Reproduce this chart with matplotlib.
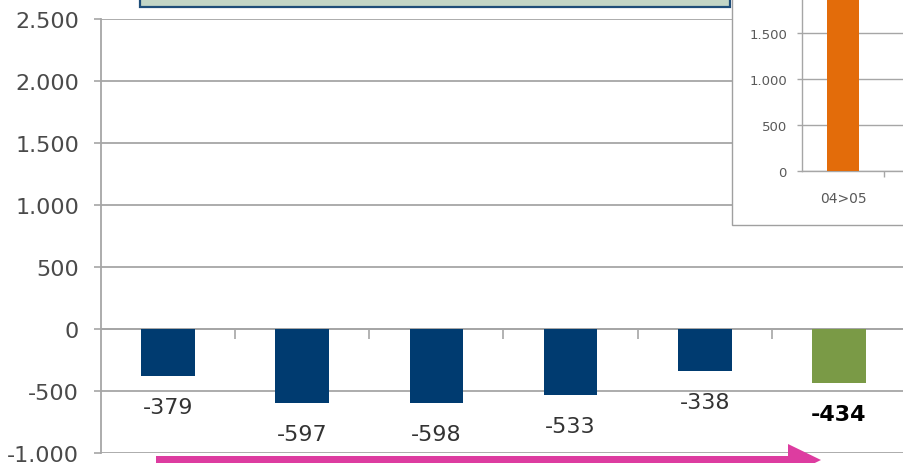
"""Year-over-year change bars with an inset chart and highlight arrow."""

import matplotlib

matplotlib.use("Agg")
import matplotlib.pyplot as plt
from matplotlib.patches import FancyArrow, Rectangle
from matplotlib.ticker import FixedLocator, FuncFormatter, MultipleLocator


# main chart (category names are cut off in the reference)
categories = ["98>99", "99>00", "00>01", "01>02", "02>03", "Media"]
changes = [-379, -597, -598, -533, -338, -434]
bar_colors = ["#003b70", "#003b70", "#003b70", "#003b70", "#003b70", "#7a9a46"]
bold_label = [False, False, False, False, False, True]

# inset chart (bar runs off the top of the picture)
inset_categories = ["04>05"]
inset_values = [2100]
inset_ticks = [0, 500, 1000, 1500]

GRID = "#a6a6a6"
PX = 72.0 / 100.0  # points per pixel at dpi 100


def thousands(value, _pos=None):
    return f"{value:,.0f}".replace(",", ".")


fig = plt.figure(figsize=(9.04, 4.64), dpi=100)
fig.patch.set_facecolor("white")

# --- main axes -------------------------------------------------------------
W, H = 904.0, 464.0
ax = fig.add_axes([101 / W, 10 / H, 805 / W, 434 / H])
ax.set_zorder(0)
positions = range(len(categories))
ax.bar(positions, changes, width=0.4, color=bar_colors, zorder=3)
ax.set_xlim(-0.5, len(categories) - 0.5)
ax.set_ylim(-1000, 2500)
ax.yaxis.set_major_locator(MultipleLocator(500))
ax.yaxis.set_major_formatter(FuncFormatter(thousands))
ax.grid(axis="y", color=GRID, linewidth=1.3, zorder=1)
ax.set_axisbelow(True)

for spine in ("top", "right"):
    ax.spines[spine].set_visible(False)
ax.spines["left"].set_color(GRID)
ax.spines["left"].set_linewidth(1.3)
ax.spines["bottom"].set_position(("data", 0))
ax.spines["bottom"].set_color(GRID)
ax.spines["bottom"].set_linewidth(1.3)

ax.set_xticks([p + 0.5 for p in positions])
ax.set_xticklabels([])
ax.tick_params(axis="x", length=10 * PX, width=1.2, color=GRID, direction="out")
ax.tick_params(axis="y", length=7 * PX, width=1.2, color=GRID, pad=15 * PX,
               labelsize=16, labelcolor="#4a4a4a")

for x, value, bold in zip(positions, changes, bold_label):
    ax.annotate(
        thousands(value),
        (x, value),
        xytext=(0, -31 * PX),
        textcoords="offset points",
        ha="center",
        va="center",
        fontsize=16,
        fontweight="bold" if bold else "normal",
        color="#000000" if bold else "#333333",
        zorder=4,
    )

# --- title box cut off at the top ----------------------------------------
fig.add_artist(Rectangle((140 / 100, (H - 8) / 100), 590 / 100, 0.5,
                         transform=fig.dpi_scale_trans, facecolor="#c3d6c6",
                         edgecolor="#1f4e79", linewidth=1.6, zorder=1))

# --- inset panel -----------------------------------------------------------
fig.add_artist(Rectangle((732 / 100, (H - 226) / 100), 2.0, 3.0,
                         transform=fig.dpi_scale_trans, facecolor="white",
                         edgecolor="#a0a0a0", linewidth=1.0, zorder=1))

inset = fig.add_axes([802 / W, (H - 172) / H, 164 / W, 230 / H])
inset.set_zorder(2)
inset.bar(range(len(inset_categories)), inset_values, width=0.4, color="#e36c0a", zorder=3)
inset.set_xlim(-0.5, 1.5)
inset.set_ylim(0, 2500)
inset.yaxis.set_major_locator(FixedLocator(inset_ticks))
inset.yaxis.set_major_formatter(FuncFormatter(thousands))
inset.grid(axis="y", color=GRID, linewidth=1.0, zorder=1)
inset.set_axisbelow(True)
for spine in ("top", "right"):
    inset.spines[spine].set_visible(False)
for spine in ("left", "bottom"):
    inset.spines[spine].set_color(GRID)
    inset.spines[spine].set_linewidth(1.0)
inset.set_xticks(range(len(inset_categories)))
inset.set_xticklabels(inset_categories)
inset.set_xticks([0.5], minor=True)
inset.tick_params(axis="x", which="major", length=0, pad=20 * PX,
                  labelsize=10, labelcolor="#595959")
inset.tick_params(axis="x", which="minor", length=6 * PX, width=1.0, color=GRID)
inset.tick_params(axis="y", length=5 * PX, width=1.0, color=GRID, pad=10 * PX,
                  labelsize=9.5, labelcolor="#595959")

# --- magenta arrow along the bottom ----------------------------------------
fig.add_artist(FancyArrow(156 / 100, (H - 461) / 100, (821 - 156) / 100, 0,
                          width=0.08, head_width=0.32, head_length=0.33,
                          length_includes_head=True, transform=fig.dpi_scale_trans,
                          facecolor="#dd3ca0", edgecolor="none", zorder=5))

fig.savefig("out.png", dpi=100, facecolor="white")
